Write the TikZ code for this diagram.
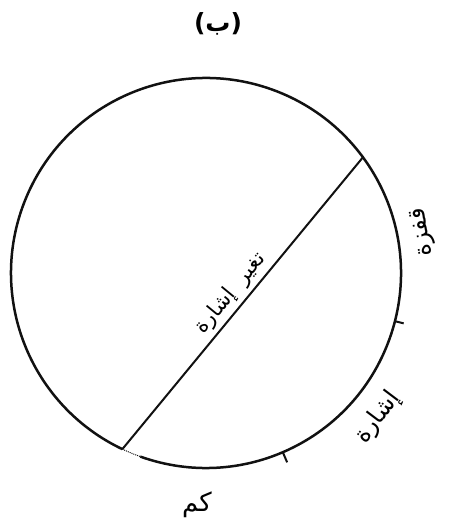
\documentclass[tikz,border=0pt]{standalone}
\usepackage{fontspec}
\newfontfamily\arabicfont[Script=Arabic]{DejaVu Sans}
\newfontfamily\plainsans{DejaVu Sans}
\TeXXeTstate=1
\usetikzlibrary{calc}
\definecolor{ink}{HTML}{111111}
\tikzset{rim/.style={draw=ink,line width=2.5pt},
  chord/.style={draw=ink,line width=2pt},
  tickmark/.style={draw=ink,line width=2pt},
  arlabel/.style={font=\arabicfont\fontsize{24}{28}\selectfont,inner sep=0pt}}

\begin{document}
\begin{tikzpicture}[x=1pt,y=1pt]
\useasboundingbox(0,0)rectangle(450,525);
\coordinate(c)at(206,252);
\node[font=\bfseries\fontsize{25}{30}\selectfont](title)at(218,501){{\plainsans(}{\arabicfont ب}{\plainsans)}};
% rim, with a broken bit near the foot of the chord
\draw[rim]($(c)+(250.3:195)$)arc[start angle=250.3,end angle=604.6,radius=195];
\draw[ink,densely dotted,line width=1pt]($(c)+(244.6:195)$)arc[start angle=244.6,end angle=250.3,radius=195];
\coordinate(chordtop)at($(c)+(36.4:195)$);
\coordinate(chordbot)at($(c)+(244.6:195)$);
\draw[chord](chordbot)--(chordtop)node[arlabel,font=\arabicfont\fontsize{21}{25}\selectfont,midway,sloped,above=4pt](chordlbl){\beginR تغير\ \ إشارة\endR};
% ticks
\draw[tickmark]($(c)+(-14.3:195)$)--($(c)+(-14.3:204)$);
\draw[tickmark]($(c)+(-66.8:195)$)--($(c)+(-66.8:206)$);
\node[arlabel,rotate=98](jump)at(423,293){\beginR قفزة\endR};
\node[arlabel,rotate=53](sign)at(378,107){\beginR إشارة\endR};
\node[arlabel,font=\arabicfont\fontsize{26}{30}\selectfont](kam)at(197,20){\beginR كم\endR};
\end{tikzpicture}
\end{document}
